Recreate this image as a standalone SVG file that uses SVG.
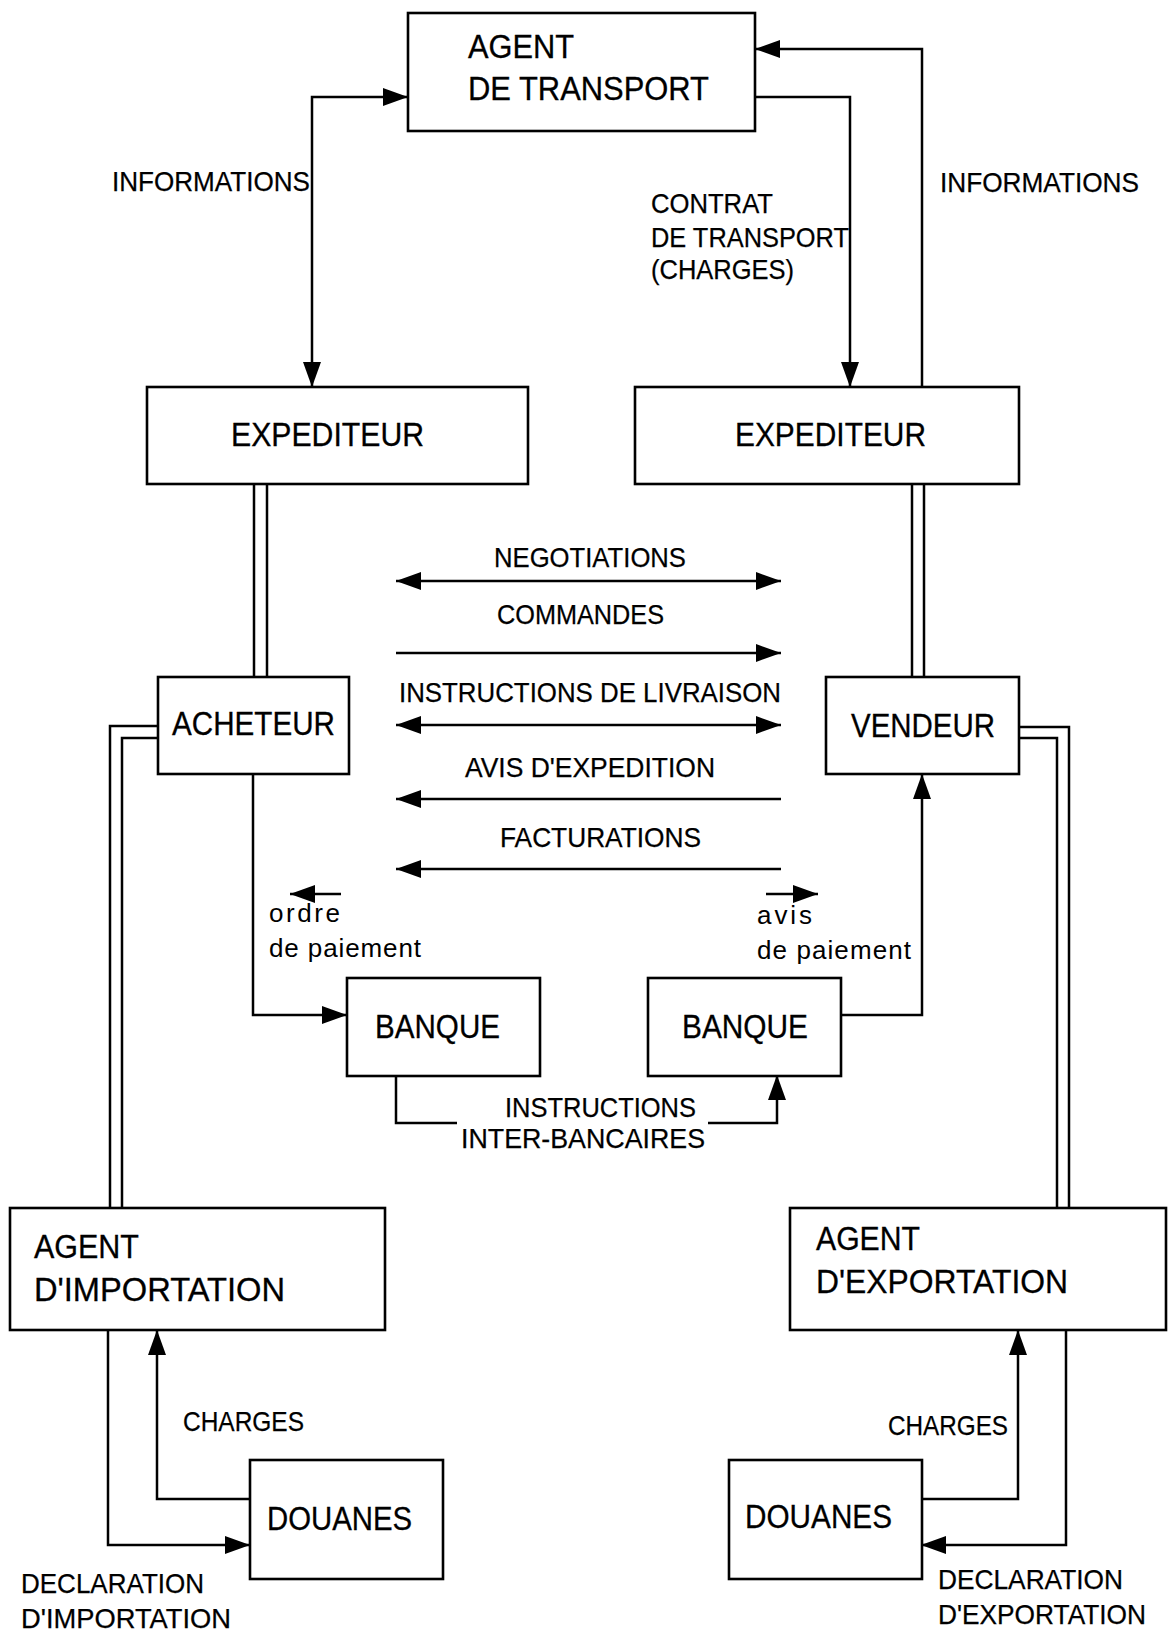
<svg xmlns="http://www.w3.org/2000/svg" width="1170" height="1633" viewBox="0 0 1170 1633">
  <style>
    .box { fill: #fff; stroke: #000; stroke-width: 2.6; }
    .ln { fill: none; stroke: #000; stroke-width: 2.5; }
    .node { font-family: "Liberation Sans", Arial, sans-serif; font-size: 33px; fill: #000; stroke: #000; stroke-width: 0.3; }
    .lbl { font-family: "Liberation Sans", Arial, sans-serif; font-size: 27.5px; fill: #000; stroke: #000; stroke-width: 0.25; }
    .sm { font-family: "Liberation Sans", Arial, sans-serif; font-size: 26px; fill: #000; }
  </style>
  <defs>
    <marker id="ah" viewBox="0 0 25 18" markerWidth="25" markerHeight="18" refX="25" refY="9" orient="auto-start-reverse" markerUnits="userSpaceOnUse">
      <path d="M0,0 L25,9 L0,18 Z" fill="#000"/>
    </marker>
  </defs>

  <rect width="1170" height="1633" fill="#fff"/>

  <!-- connectors -->
  <g id="connectors">
    <!-- transport agent links -->
    <path class="ln" d="M312,387 V97 H408" marker-start="url(#ah)" marker-end="url(#ah)"/>
    <path class="ln" d="M755,97 H850 V387" marker-end="url(#ah)"/>
    <path class="ln" d="M922,387 V49 H755" marker-end="url(#ah)"/>

    <!-- physical links (double lines) -->
    <path class="ln" d="M254,484 V677 M267,484 V677"/>
    <path class="ln" d="M912,484 V677 M924,484 V677"/>
    <path class="ln" d="M158,726 H110 V1208 M158,738 H122 V1208"/>
    <path class="ln" d="M1019,727 H1069 V1208 M1019,738 H1057 V1208"/>

    <!-- buyer / seller exchanges -->
    <path class="ln" d="M396,581 H781" marker-start="url(#ah)" marker-end="url(#ah)"/>
    <path class="ln" d="M396,653 H781" marker-end="url(#ah)"/>
    <path class="ln" d="M396,725 H781" marker-start="url(#ah)" marker-end="url(#ah)"/>
    <path class="ln" d="M396,799 H781" marker-start="url(#ah)"/>
    <path class="ln" d="M396,869 H781" marker-start="url(#ah)"/>

    <!-- payment -->
    <path class="ln" d="M253,774 V1015 H347" marker-end="url(#ah)"/>
    <path class="ln" d="M840,1015 H922 V774" marker-end="url(#ah)"/>
    <path class="ln" d="M341,894 H290" marker-end="url(#ah)"/>
    <path class="ln" d="M766,894 H818" marker-end="url(#ah)"/>
    <path class="ln" d="M396,1075 V1123 H457"/>
    <path class="ln" d="M708,1123 H777 V1075" marker-end="url(#ah)"/>

    <!-- customs -->
    <path class="ln" d="M108,1330 V1545 H250" marker-end="url(#ah)"/>
    <path class="ln" d="M250,1499 H157 V1330" marker-end="url(#ah)"/>
    <path class="ln" d="M1066,1330 V1545 H921" marker-end="url(#ah)"/>
    <path class="ln" d="M921,1499 H1018 V1330" marker-end="url(#ah)"/>
  </g>

  <!-- edge labels -->
  <g id="labels">
    <text class="lbl" x="112" y="191" textLength="198" lengthAdjust="spacingAndGlyphs">INFORMATIONS</text>
    <text class="lbl" x="940" y="192" textLength="199" lengthAdjust="spacingAndGlyphs">INFORMATIONS</text>
    <text class="lbl" x="651" y="213" textLength="122" lengthAdjust="spacingAndGlyphs">CONTRAT</text>
    <text class="lbl" x="651" y="247" textLength="198" lengthAdjust="spacingAndGlyphs">DE TRANSPORT</text>
    <text class="lbl" x="651" y="279" textLength="143" lengthAdjust="spacingAndGlyphs">(CHARGES)</text>

    <text class="lbl" x="494" y="567" textLength="192" lengthAdjust="spacingAndGlyphs">NEGOTIATIONS</text>
    <text class="lbl" x="497" y="624" textLength="167" lengthAdjust="spacingAndGlyphs">COMMANDES</text>
    <text class="lbl" x="399" y="702" textLength="382" lengthAdjust="spacingAndGlyphs">INSTRUCTIONS DE LIVRAISON</text>
    <text class="lbl" x="465" y="777" textLength="250" lengthAdjust="spacingAndGlyphs">AVIS D'EXPEDITION</text>
    <text class="lbl" x="500" y="847" textLength="201" lengthAdjust="spacingAndGlyphs">FACTURATIONS</text>

    <text class="sm" x="269" y="922" textLength="71" lengthAdjust="spacing">ordre</text>
    <text class="sm" x="269" y="957" textLength="152" lengthAdjust="spacing">de paiement</text>
    <text class="sm" x="757" y="924" textLength="55" lengthAdjust="spacing">avis</text>
    <text class="sm" x="757" y="959" textLength="154" lengthAdjust="spacing">de paiement</text>

    <text class="lbl" x="505" y="1117" textLength="191" lengthAdjust="spacingAndGlyphs">INSTRUCTIONS</text>
    <text class="lbl" x="461" y="1148" textLength="244" lengthAdjust="spacingAndGlyphs">INTER-BANCAIRES</text>

    <text class="lbl" x="183" y="1431" textLength="121" lengthAdjust="spacingAndGlyphs">CHARGES</text>
    <text class="lbl" x="888" y="1435" textLength="120" lengthAdjust="spacingAndGlyphs">CHARGES</text>
    <text class="lbl" x="21" y="1593" textLength="183" lengthAdjust="spacingAndGlyphs">DECLARATION</text>
    <text class="lbl" x="21" y="1628" textLength="210" lengthAdjust="spacingAndGlyphs">D'IMPORTATION</text>
    <text class="lbl" x="938" y="1589" textLength="185" lengthAdjust="spacingAndGlyphs">DECLARATION</text>
    <text class="lbl" x="938" y="1624" textLength="208" lengthAdjust="spacingAndGlyphs">D'EXPORTATION</text>
  </g>

  <!-- nodes -->
  <g id="agent-transport">
    <rect class="box" x="408" y="13" width="347" height="118"/>
    <text class="node" x="468" y="58" textLength="106" lengthAdjust="spacingAndGlyphs">AGENT</text>
    <text class="node" x="468" y="100" textLength="241" lengthAdjust="spacingAndGlyphs">DE TRANSPORT</text>
  </g>
  <g id="expediteur-acheteur">
    <rect class="box" x="147" y="387" width="381" height="97"/>
    <text class="node" x="231" y="446" textLength="193" lengthAdjust="spacingAndGlyphs">EXPEDITEUR</text>
  </g>
  <g id="expediteur-vendeur">
    <rect class="box" x="635" y="387" width="384" height="97"/>
    <text class="node" x="735" y="446" textLength="191" lengthAdjust="spacingAndGlyphs">EXPEDITEUR</text>
  </g>
  <g id="acheteur">
    <rect class="box" x="158" y="677" width="191" height="97"/>
    <text class="node" x="172" y="735" textLength="163" lengthAdjust="spacingAndGlyphs">ACHETEUR</text>
  </g>
  <g id="vendeur">
    <rect class="box" x="826" y="677" width="193" height="97"/>
    <text class="node" x="851" y="737" textLength="144" lengthAdjust="spacingAndGlyphs">VENDEUR</text>
  </g>
  <g id="banque-acheteur">
    <rect class="box" x="347" y="978" width="193" height="98"/>
    <text class="node" x="375" y="1038" textLength="125" lengthAdjust="spacingAndGlyphs">BANQUE</text>
  </g>
  <g id="banque-vendeur">
    <rect class="box" x="648" y="978" width="193" height="98"/>
    <text class="node" x="682" y="1038" textLength="126" lengthAdjust="spacingAndGlyphs">BANQUE</text>
  </g>
  <g id="agent-importation">
    <rect class="box" x="10" y="1208" width="375" height="122"/>
    <text class="node" x="34" y="1258" textLength="105" lengthAdjust="spacingAndGlyphs">AGENT</text>
    <text class="node" x="34" y="1301" textLength="251" lengthAdjust="spacingAndGlyphs">D'IMPORTATION</text>
  </g>
  <g id="agent-exportation">
    <rect class="box" x="790" y="1208" width="376" height="122"/>
    <text class="node" x="816" y="1250" textLength="104" lengthAdjust="spacingAndGlyphs">AGENT</text>
    <text class="node" x="816" y="1293" textLength="252" lengthAdjust="spacingAndGlyphs">D'EXPORTATION</text>
  </g>
  <g id="douanes-import">
    <rect class="box" x="250" y="1460" width="193" height="119"/>
    <text class="node" x="267" y="1530" textLength="145" lengthAdjust="spacingAndGlyphs">DOUANES</text>
  </g>
  <g id="douanes-export">
    <rect class="box" x="729" y="1460" width="193" height="119"/>
    <text class="node" x="745" y="1528" textLength="147" lengthAdjust="spacingAndGlyphs">DOUANES</text>
  </g>
</svg>
